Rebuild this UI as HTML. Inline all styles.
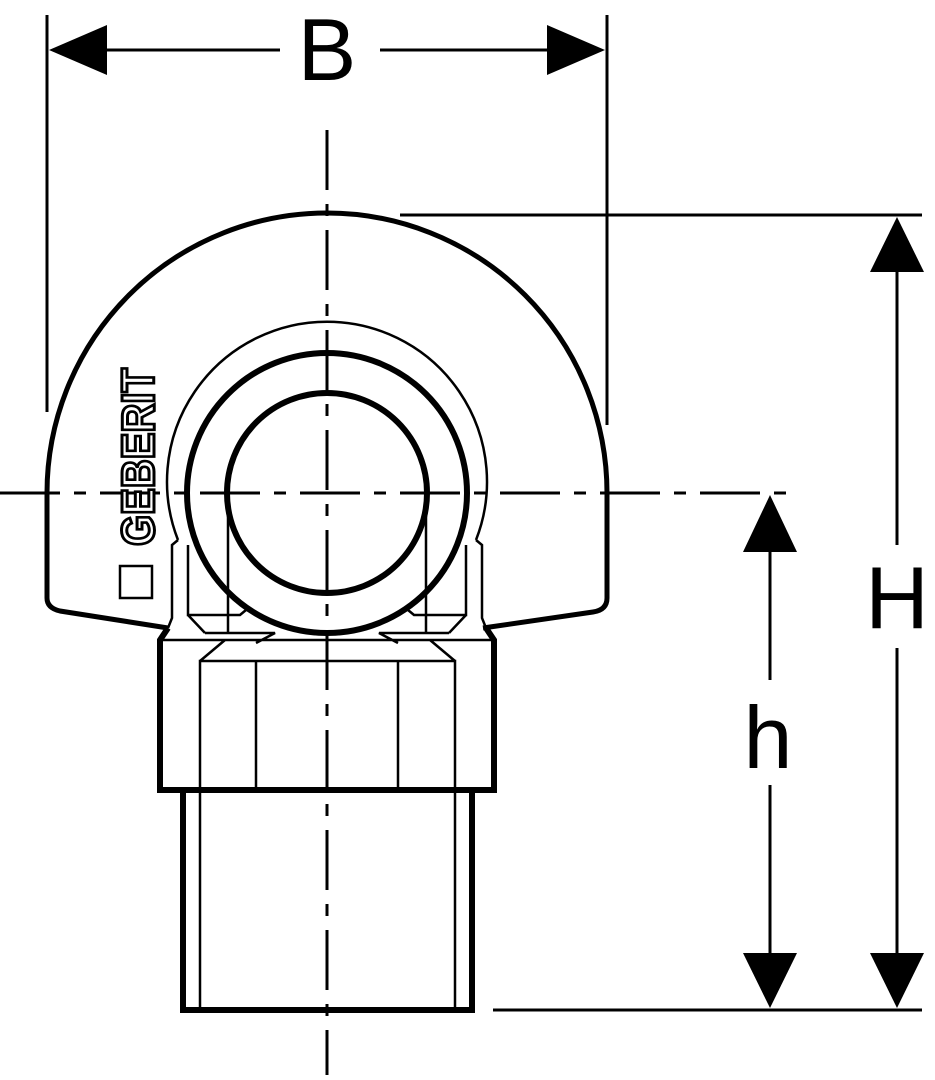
<!DOCTYPE html>
<html><head><style>html,body{margin:0;padding:0;background:#fff}svg{display:block}</style></head>
<body>
<svg width="935" height="1080" viewBox="0 0 935 1080" xmlns="http://www.w3.org/2000/svg" fill="none" stroke="#000">
<!-- center lines -->
<line x1="327" y1="130" x2="327" y2="1075" stroke-width="3" stroke-dasharray="60,14,12,14"/>
<line x1="0" y1="493" x2="800" y2="493" stroke-width="3" stroke-dasharray="60,14,12,14"/>
<!-- housing -->
<path d="M47,493 A280,280 0 0 1 607,493 L607,598 Q607,610 593,612 L483,628 M47,493 L47,598 Q47,608 60,611 L168,628" stroke-width="5"/>
<!-- rings -->
<path d="M178,540 A160,160 0 1 1 476,540" stroke-width="2.5"/>
<circle cx="327" cy="493" r="140" stroke-width="6"/>
<circle cx="327" cy="493" r="100" stroke-width="6"/>
<!-- struts -->
<path d="M178,540 L172,545 L172,618 L168,628 M188,545 L188,615 L240,615 L246,610 M188,615 L205,633 M228,515 L228,633" stroke-width="2.5"/>
<path d="M476,540 L482,545 L482,618 L486,628 M466,545 L466,615 L414,615 L408,610 M466,615 L449,633 M426,515 L426,633" stroke-width="2.5"/>
<!-- nut -->
<path d="M168,628 L160,640 L160,790 L494,790 L494,640 L486,628" stroke-width="6"/>
<path d="M160,640 L494,640 M200,790 L200,661 L455,661 L455,790 M200,661 L225,640 M455,661 L430,640 M256,790 L256,661 M398,790 L398,661 M256,643 L275,633 L205,633 M398,643 L379,633 L449,633" stroke-width="2.5"/>
<!-- pipe -->
<path d="M183,790 L183,1010 L472,1010 L472,790" stroke-width="6"/>
<path d="M200,790 L200,1010 M455,790 L455,1010" stroke-width="2.5"/>
<!-- dimension B -->
<line x1="47" y1="15" x2="47" y2="412" stroke-width="3"/>
<line x1="607" y1="15" x2="607" y2="425" stroke-width="3"/>
<line x1="100" y1="50" x2="280" y2="50" stroke-width="3"/>
<line x1="380" y1="50" x2="555" y2="50" stroke-width="3"/>
<polygon points="49,50 107,25 107,75" fill="#000" stroke="none"/>
<polygon points="605,50 547,25 547,75" fill="#000" stroke="none"/>
<text x="327" y="80" font-family="Liberation Sans, sans-serif" font-size="88" text-anchor="middle" fill="#000" stroke="none">B</text>
<!-- dimension H -->
<line x1="400" y1="215" x2="922" y2="215" stroke-width="3"/>
<line x1="493" y1="1010" x2="922" y2="1010" stroke-width="3"/>
<line x1="897" y1="260" x2="897" y2="545" stroke-width="3"/>
<line x1="897" y1="648" x2="897" y2="960" stroke-width="3"/>
<polygon points="897,217 870,272 924,272" fill="#000" stroke="none"/>
<polygon points="897,1008 870,953 924,953" fill="#000" stroke="none"/>
<text x="897" y="628" font-family="Liberation Sans, sans-serif" font-size="88" text-anchor="middle" fill="#000" stroke="none">H</text>
<!-- dimension h -->
<line x1="770" y1="540" x2="770" y2="680" stroke-width="3"/>
<line x1="770" y1="785" x2="770" y2="960" stroke-width="3"/>
<polygon points="770,495 743,552 797,552" fill="#000" stroke="none"/>
<polygon points="770,1008 743,953 797,953" fill="#000" stroke="none"/>
<text x="768" y="768" font-family="Liberation Sans, sans-serif" font-size="88" text-anchor="middle" fill="#000" stroke="none">h</text>
<!-- logo -->
<text transform="translate(154,546) rotate(-90)" font-family="Liberation Sans, sans-serif" font-weight="bold" font-size="46" fill="#fff" stroke="#000" stroke-width="3" textLength="178" lengthAdjust="spacingAndGlyphs">GEBERIT</text>
<rect x="120" y="566" width="32" height="32" stroke-width="2.5"/>
</svg>
</body></html>
